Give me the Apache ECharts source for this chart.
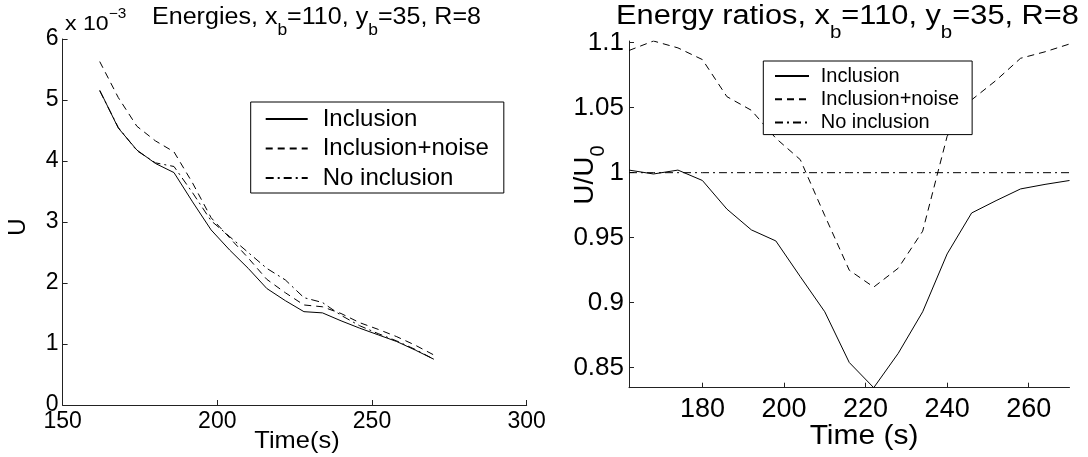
<!DOCTYPE html>
<html>
<head>
<meta charset="utf-8">
<script src="https://cdn.jsdelivr.net/npm/echarts@6/dist/echarts.min.js"></script>
<style>
  html, body { margin: 0; padding: 0; background: #fff; }
  #chart { width: 1088px; height: 457px; }
</style>
</head>
<body>
<div id="chart"></div>
<script>
// sample times (s), shared by both panels
var times = [162, 168, 174, 180, 186, 192, 198, 204, 210, 216, 222, 228, 234, 240, 246, 252, 258, 264, 270];

// left panel: energies U, in units of 1e-3
var energyInclusion = [5.16, 4.54, 4.18, 3.96, 3.81, 3.33, 2.87, 2.54, 2.24, 1.91, 1.71, 1.53, 1.51, 1.38, 1.26, 1.15, 1.04, 0.90, 0.75];
var energyNoise     = [5.63, 5.04, 4.57, 4.33, 4.15, 3.64, 3.07, 2.74, 2.41, 2.06, 1.84, 1.64, 1.61, 1.50, 1.35, 1.24, 1.12, 0.98, 0.82];
var energyNoIncl    = [5.15, 4.55, 4.17, 3.97, 3.91, 3.48, 3.02, 2.76, 2.50, 2.24, 2.05, 1.76, 1.68, 1.47, 1.30, 1.17, 1.05, 0.91, 0.75];

// right panel: ratios U/U0
var ratioInclusion = [1.002, 0.999, 1.002, 0.994, 0.972, 0.956, 0.9475, 0.920, 0.893, 0.854, 0.8346, 0.861, 0.893, 0.9375, 0.969, 0.9785, 0.9875, 0.991, 0.994];
var ratioNoise     = [1.094, 1.1013, 1.096, 1.087, 1.0585, 1.048, 1.0265, 1.010, 0.967, 0.925, 0.912, 0.9265, 0.955, 1.028, 1.056, 1.071, 1.088, 1.093, 1.099];
var ratioNoIncl    = [1, 1, 1, 1, 1, 1, 1, 1, 1, 1, 1, 1, 1, 1, 1, 1, 1, 1, 1];

var seriesNames = ['Inclusion', 'Inclusion+noise', 'No inclusion'];
var rightXTicks = [180, 200, 220, 240, 260];
var rightYTicks = [0.85, 0.9, 0.95, 1, 1.05, 1.1];

var FONT = '"Liberation Sans", Arial, Helvetica, sans-serif';
var INK = '#000';
var lineTypes = ['solid', [7, 5], [8, 4, 2, 4]];

function pairs(ys) {
    return times.map(function (t, i) { return [t, ys[i]]; });
}

function mkSeries(name, ys, idx, typeIdx) {
    return {
        name: name,
        type: 'line',
        xAxisIndex: idx,
        yAxisIndex: idx,
        data: pairs(ys),
        symbol: 'none',
        showSymbol: false,
        silent: true,
        animation: false,
        lineStyle: { color: INK, width: 1, type: lineTypes[typeIdx] },
        itemStyle: { color: INK },
        z: 2
    };
}

var axisLine = { show: true, onZero: false, lineStyle: { color: '#222', width: 1 } };

var chart = echarts.init(document.getElementById('chart'), null, { renderer: 'canvas' });

var option = {
    backgroundColor: '#fff',
    animation: false,
    textStyle: { fontFamily: FONT, color: INK },
    grid: [
        { left: 62.6, top: 39, width: 464.1, height: 366 },
        { left: 629, top: 41, width: 440.5, height: 346.7 }
    ],
    xAxis: [
        {
            type: 'value', gridIndex: 0, min: 150, max: 300, interval: 50,
            axisLine: axisLine,
            axisTick: { show: true, inside: true, length: 5, lineStyle: { color: '#222' } },
            axisLabel: { color: INK, fontFamily: FONT, fontSize: 23, margin: 5 },
            splitLine: { show: false }
        },
        {
            type: 'value', gridIndex: 1, min: 162, max: 270,
            axisLine: axisLine,
            axisTick: { show: true, inside: true, length: 5, lineStyle: { color: '#222' }, customValues: rightXTicks },
            axisLabel: { color: INK, fontFamily: FONT, fontSize: 27, margin: 8, customValues: rightXTicks },
            splitLine: { show: false }
        }
    ],
    yAxis: [
        {
            type: 'value', gridIndex: 0, min: 0, max: 6, interval: 1,
            axisLine: axisLine,
            axisTick: { show: true, inside: true, length: 5, lineStyle: { color: '#222' } },
            axisLabel: { color: INK, fontFamily: FONT, fontSize: 23, margin: 4 },
            splitLine: { show: false }
        },
        {
            type: 'value', gridIndex: 1, min: 0.8346, max: 1.1013,
            axisLine: axisLine,
            axisTick: { show: true, inside: true, length: 5, lineStyle: { color: '#222' }, customValues: rightYTicks },
            axisLabel: {
                color: INK, fontFamily: FONT, fontSize: 26, margin: 5, customValues: rightYTicks,
                formatter: function (v) { return String(+v.toFixed(2)); }
            },
            splitLine: { show: false }
        }
    ],
    legend: [
        {
            data: seriesNames,
            orient: 'vertical',
            left: 250.7, top: 102,
            padding: [5, 15, 3, 14],
            itemWidth: 42, itemHeight: 14, itemGap: 5.5,
            itemStyle: { opacity: 0 },
            backgroundColor: '#fff',
            borderColor: INK, borderWidth: 1, borderRadius: 0,
            selectedMode: false,
            textStyle: { color: INK, fontFamily: FONT, fontSize: 24, lineHeight: 24, padding: [0, 0, 0, 10] }
        },
        {
            data: seriesNames,
            orient: 'vertical',
            left: 763.3, top: 61,
            padding: [5, 13, 2, 10.7],
            itemWidth: 34, itemHeight: 12, itemGap: 3.3,
            itemStyle: { opacity: 0 },
            backgroundColor: '#fff',
            borderColor: INK, borderWidth: 1, borderRadius: 0,
            selectedMode: false,
            textStyle: { color: INK, fontFamily: FONT, fontSize: 20, lineHeight: 20, padding: [0, 0, 0, 6.7] }
        }
    ],
    graphic: [
        {   // left title
            type: 'text', x: 152, y: 18, scaleX: 1.09, silent: true,
            style: {
                text: 'Energies, x{s|b}=110, y{s|b}=35, R=8',
                font: '23px ' + FONT, fill: INK, lineHeight: 26,
                align: 'left', verticalAlign: 'middle',
                rich: { s: { fontSize: 16, lineHeight: 16, fontFamily: FONT, padding: [26, 0, 0, 0] } }
            }
        },
        {   // exponent label
            type: 'text', x: 65, y: 24, scaleX: 1.1, silent: true,
            style: {
                text: 'x 10{p|\u22123}',
                font: '21px ' + FONT, fill: INK, lineHeight: 24,
                align: 'left', verticalAlign: 'middle',
                rich: { p: { fontSize: 14, lineHeight: 14, fontFamily: FONT, padding: [0, 0, 20, 0] } }
            }
        },
        {   // right title
            type: 'text', x: 847.5, y: 17, scaleX: 1.14, silent: true,
            style: {
                text: 'Energy ratios, x{s|b}=110, y{s|b}=35, R=8',
                font: '27px ' + FONT, fill: INK, lineHeight: 30,
                align: 'center', verticalAlign: 'middle',
                rich: { s: { fontSize: 18, lineHeight: 18, fontFamily: FONT, padding: [32, 0, 0, 0] } }
            }
        },
        {   // left y name
            type: 'text', x: 18, y: 227, rotation: Math.PI / 2, silent: true,
            style: { text: 'U', font: '24px ' + FONT, fill: INK, align: 'center', verticalAlign: 'middle' }
        },
        {   // left x name
            type: 'text', x: 297, y: 441, scaleX: 1.06, silent: true,
            style: { text: 'Time(s)', font: '24px ' + FONT, fill: INK, align: 'center', verticalAlign: 'middle' }
        },
        {   // right y name
            type: 'text', x: 585, y: 175, rotation: Math.PI / 2, silent: true,
            style: {
                text: 'U/U{s|0}', font: '28px ' + FONT, fill: INK, lineHeight: 30,
                align: 'center', verticalAlign: 'middle',
                rich: { s: { fontSize: 20, lineHeight: 20, fontFamily: FONT, padding: [26, 0, 0, 0] } }
            }
        },
        {   // right x name
            type: 'text', x: 864, y: 436, scaleX: 1.07, silent: true,
            style: { text: 'Time (s)', font: '28px ' + FONT, fill: INK, align: 'center', verticalAlign: 'middle' }
        }
    ],
    series: [
        mkSeries(seriesNames[0], energyInclusion, 0, 0),
        mkSeries(seriesNames[1], energyNoise, 0, 1),
        mkSeries(seriesNames[2], energyNoIncl, 0, 2),
        mkSeries(seriesNames[0], ratioInclusion, 1, 0),
        mkSeries(seriesNames[1], ratioNoise, 1, 1),
        mkSeries(seriesNames[2], ratioNoIncl, 1, 2)
    ]
};

chart.setOption(option);
</script>
</body>
</html>
